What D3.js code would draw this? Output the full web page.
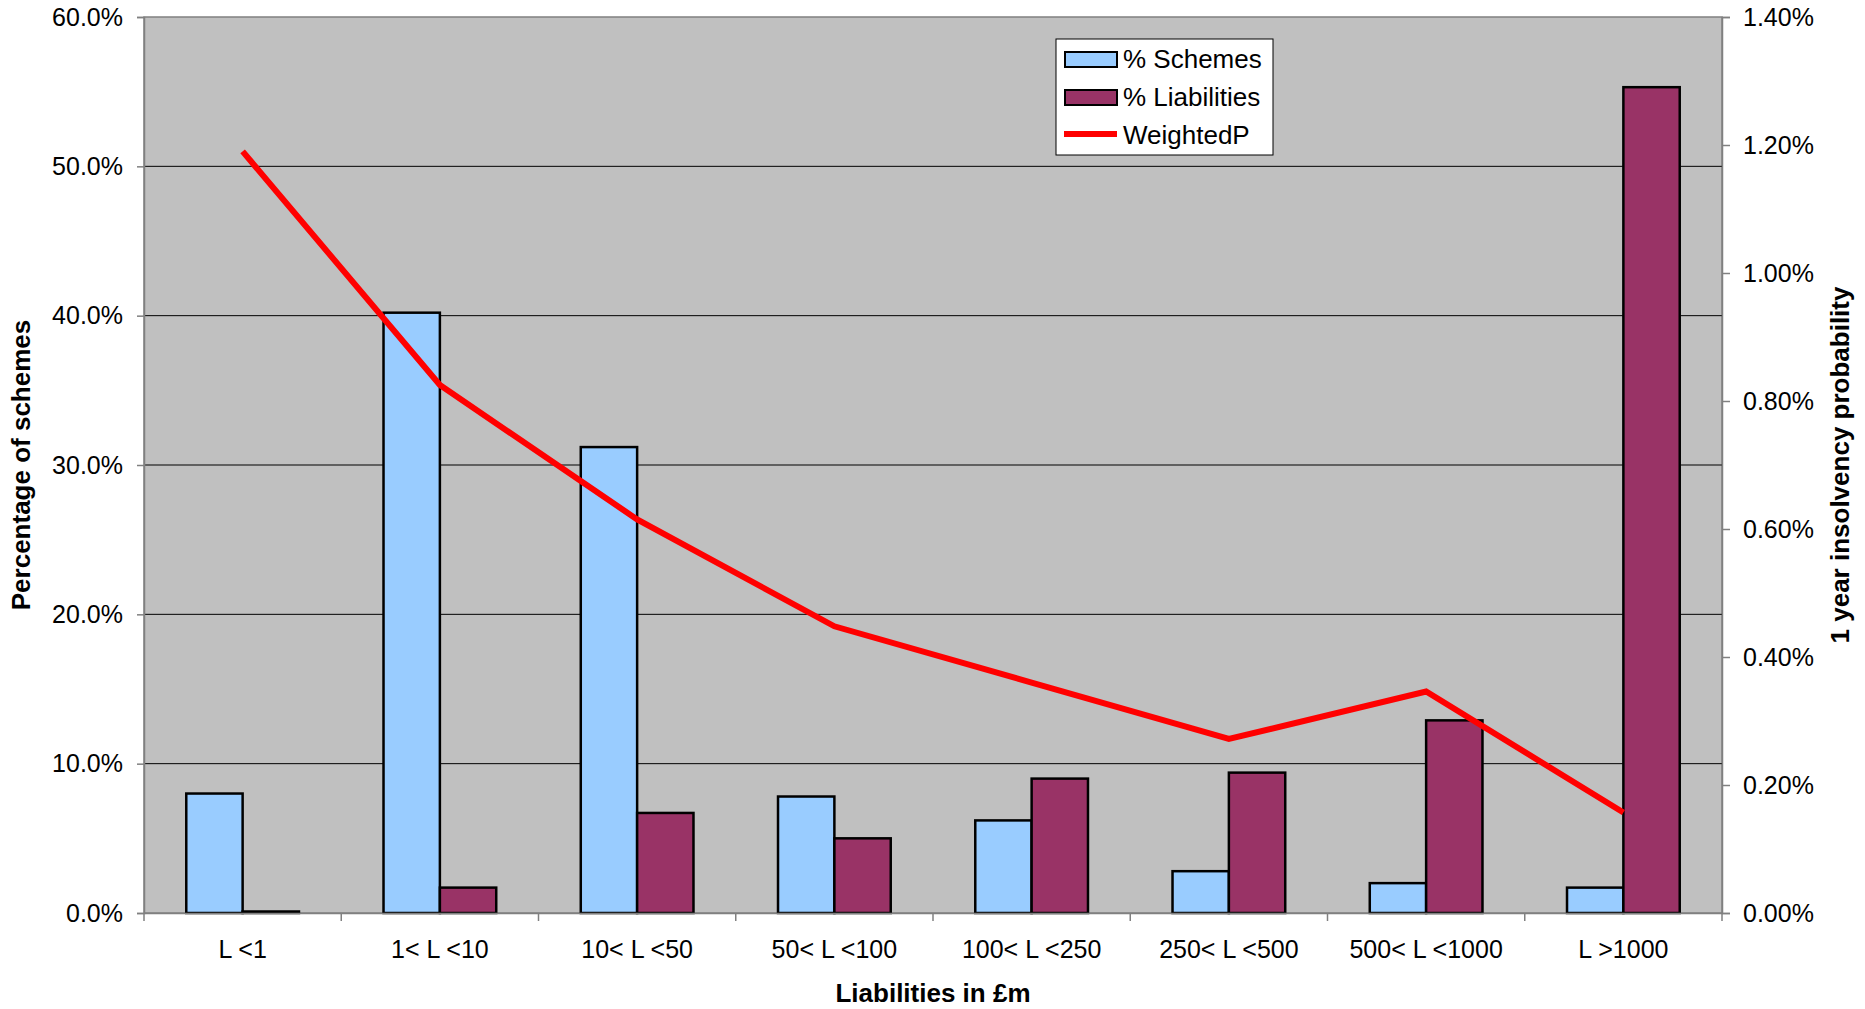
<!DOCTYPE html>
<html>
<head>
<meta charset="utf-8">
<script src="https://cdn.jsdelivr.net/npm/d3@7"></script>
<style>
  body { margin: 0; background: #fff; }
  text { font-family: "Liberation Sans", Arial, sans-serif; }
</style>
</head>
<body>
<div id="grafico"></div>
<script>
    var categorias = ['L <1', '1< L <10', '10< L <50', '50< L <100', '100< L <250', '250< L <500', '500< L <1000', 'L >1000'];
    var pctSchemes = [8.0, 40.2, 31.2, 7.8, 6.2, 2.8, 2.0, 1.7];
    var pctLiabilities = [0.1, 1.7, 6.7, 5.0, 9.0, 9.4, 12.9, 55.3];
    var weightedP = [1.19, 0.825, 0.615, 0.448, 0.36, 0.272, 0.346, 0.157];
    var seriesNames = ['% Schemes', '% Liabilities', 'WeightedP'];
    var leftTicks = [0, 10, 20, 30, 40, 50, 60];
    var rightTicks = [0, 0.2, 0.4, 0.6, 0.8, 1.0, 1.2, 1.4];

    var svgWidth = 1865;
    var svgHeight = 1009;

    var svg = d3.select("#grafico")
      .append("svg")
      .attr("width", svgWidth)
      .attr("height", svgHeight);

    var margin = { top: 17, right: 143, bottom: 96, left: 144 };
    var chartWidth = svgWidth - margin.left - margin.right;
    var chartHeight = svgHeight - margin.top - margin.bottom;

    var xScale = d3.scaleBand()
      .domain(categorias)
      .range([0, chartWidth])
      .padding(0);

    // two bars per category, gap of 150% of a bar width
    var xInner = d3.scaleBand()
      .domain(['schemes', 'liabilities'])
      .range([0, xScale.bandwidth()])
      .paddingInner(0)
      .paddingOuter(0.75);

    var yScale = d3.scaleLinear()
      .domain([0, 60])
      .range([chartHeight, 0]);

    var yRight = d3.scaleLinear()
      .domain([0, 1.4])
      .range([chartHeight, 0]);

    var chart = svg.append("g")
      .attr("transform", "translate(" + margin.left + "," + margin.top + ")");

    // plot area
    chart.append("rect")
      .attr("width", chartWidth)
      .attr("height", chartHeight)
      .attr("fill", "#c0c0c0")
      .attr("stroke", "#808080")
      .attr("stroke-width", 1.5);

    // gridlines
    chart.selectAll(".grid")
      .data(leftTicks.slice(1, -1))
      .enter()
      .append("line")
      .attr("class", "grid")
      .attr("x1", 0)
      .attr("x2", chartWidth)
      .attr("y1", d => yScale(d))
      .attr("y2", d => yScale(d))
      .attr("stroke", "#000")
      .attr("stroke-width", 1);

    // bars
    chart.selectAll(".bar-s")
      .data(pctSchemes)
      .enter()
      .append("rect")
      .attr("class", "bar-s")
      .attr("x", (d, i) => xScale(categorias[i]) + xInner('schemes'))
      .attr("y", d => yScale(d))
      .attr("width", xInner.bandwidth())
      .attr("height", d => chartHeight - yScale(d))
      .attr("fill", "#99ccff")
      .attr("stroke", "#000")
      .attr("stroke-width", 2.5);

    chart.selectAll(".bar-l")
      .data(pctLiabilities)
      .enter()
      .append("rect")
      .attr("class", "bar-l")
      .attr("x", (d, i) => xScale(categorias[i]) + xInner('liabilities'))
      .attr("y", d => yScale(d))
      .attr("width", xInner.bandwidth())
      .attr("height", d => chartHeight - yScale(d))
      .attr("fill", "#993366")
      .attr("stroke", "#000")
      .attr("stroke-width", 2.5);

    // axes
    var yAxis = d3.axisLeft(yScale)
      .tickValues(leftTicks)
      .tickFormat(d => d.toFixed(1) + "%")
      .tickSize(7)
      .tickPadding(14);

    var yAxisRight = d3.axisRight(yRight)
      .tickValues(rightTicks)
      .tickFormat(d => d.toFixed(2) + "%")
      .tickSize(8)
      .tickPadding(13);

    var xAxis = d3.axisBottom(xScale)
      .tickSize(0)
      .tickPadding(27);

    var gy = chart.append("g")
      .attr("class", "y axis")
      .call(yAxis);

    var gyr = chart.append("g")
      .attr("class", "y axis right")
      .attr("transform", "translate(" + chartWidth + ",0)")
      .call(yAxisRight);

    var gx = chart.append("g")
      .attr("class", "x axis")
      .attr("transform", "translate(0," + chartHeight + ")")
      .call(xAxis);

    // category boundary ticks
    gx.selectAll(".bound")
      .data(categorias.map(c => xScale(c)).concat([chartWidth]))
      .enter()
      .append("line")
      .attr("class", "bound")
      .attr("x1", d => d)
      .attr("x2", d => d)
      .attr("y1", 0)
      .attr("y2", 8)
      .attr("stroke", "#808080")
      .attr("stroke-width", 1.5);

    [gy, gyr, gx].forEach(function (g) {
      g.select(".domain").attr("stroke", "#808080").attr("stroke-width", 1.5);
      g.selectAll(".tick line").attr("stroke", "#808080").attr("stroke-width", 1.5);
      g.selectAll(".tick text")
        .attr("fill", "#000")
        .style("font-family", "'Liberation Sans', Arial, sans-serif")
        .style("font-size", "25px");
    });

    // line
    var line = d3.line()
      .x((d, i) => xScale(categorias[i]) + xScale.bandwidth() / 2)
      .y(d => yRight(d));

    chart.append("path")
      .datum(weightedP)
      .attr("d", line)
      .attr("fill", "none")
      .attr("stroke", "#ff0000")
      .attr("stroke-width", 6);

    // axis titles
    svg.append("text")
      .attr("transform", "translate(30," + (margin.top + chartHeight / 2) + ") rotate(-90)")
      .attr("text-anchor", "middle")
      .style("font-size", "26px")
      .style("font-weight", "bold")
      .text("Percentage of schemes");

    svg.append("text")
      .attr("transform", "translate(1849," + (margin.top + chartHeight / 2) + ") rotate(-90)")
      .attr("text-anchor", "middle")
      .style("font-size", "26px")
      .style("font-weight", "bold")
      .text("1 year insolvency probability");

    svg.append("text")
      .attr("x", margin.left + chartWidth / 2)
      .attr("y", 1002)
      .attr("text-anchor", "middle")
      .style("font-size", "26px")
      .style("font-weight", "bold")
      .text("Liabilities in £m");

    // legend
    var legend = svg.append("g")
      .attr("transform", "translate(1056,39)");

    legend.append("rect")
      .attr("width", 217)
      .attr("height", 116)
      .attr("fill", "#fff")
      .attr("stroke", "#000")
      .attr("stroke-width", 1);

    var legendFills = ["#99ccff", "#993366"];
    legend.selectAll(".lsw")
      .data(legendFills)
      .enter()
      .append("rect")
      .attr("class", "lsw")
      .attr("x", 9)
      .attr("y", (d, i) => 13 + i * 38)
      .attr("width", 52)
      .attr("height", 15)
      .attr("fill", d => d)
      .attr("stroke", "#000")
      .attr("stroke-width", 2);

    legend.append("line")
      .attr("x1", 8)
      .attr("x2", 61)
      .attr("y1", 95)
      .attr("y2", 95)
      .attr("stroke", "#ff0000")
      .attr("stroke-width", 6);

    legend.selectAll(".ltxt")
      .data(seriesNames)
      .enter()
      .append("text")
      .attr("class", "ltxt")
      .attr("x", 67)
      .attr("y", (d, i) => 20 + i * 38)
      .attr("dy", "0.35em")
      .style("font-size", "26px")
      .text(d => d);
</script>
</body>
</html>
